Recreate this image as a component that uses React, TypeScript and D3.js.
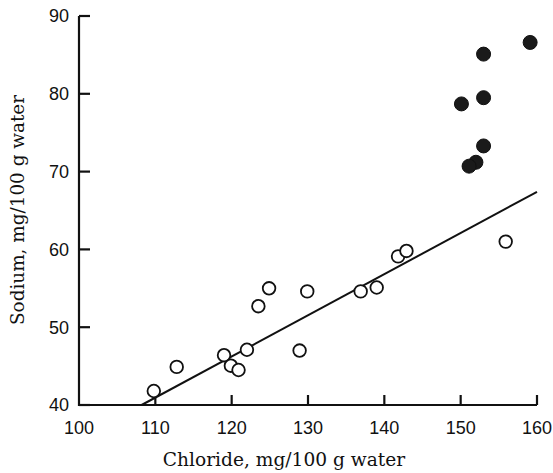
import React from "react";
import * as d3 from "d3";

// Chloride vs sodium concentrations (mg/100 g water)
const openChloride = [109.8, 112.8, 119.0, 119.9, 120.9, 122.0, 123.5, 124.9, 128.9, 129.9, 136.9, 139.0, 141.8, 142.9, 155.9];
const openSodium = [41.8, 44.9, 46.4, 45.05, 44.5, 47.1, 52.7, 55.0, 47.0, 54.6, 54.6, 55.1, 59.1, 59.8, 61.0];
const filledChloride = [159.1, 153.0, 150.1, 153.0, 153.0, 152.0, 151.1];
const filledSodium = [86.6, 85.1, 78.7, 79.5, 73.3, 71.2, 70.7];

// Fitted regression line end points
const fitChloride = [108.2, 160];
const fitSodium = [40, 67.4];

const xTicks = [100, 110, 120, 130, 140, 150, 160];
const yTicks = [40, 50, 60, 70, 80, 90];

const W = 553;
const H = 473;

export default function App() {
  const x = d3.scaleLinear().domain([100, 160]).range([79, 537]);
  const y = d3.scaleLinear().domain([40, 90]).range([405, 16]);

  const line = d3
    .line<number>()
    .x((d, i) => x(fitChloride[i]))
    .y((d) => y(d));

  const tickFont = "'Liberation Sans', Arial, sans-serif";
  const titleFont = "'DejaVu Serif', 'Liberation Serif', serif";

  return (
    <svg
      width={W}
      height={H}
      style={{ position: "absolute", left: 0, top: 0, background: "#fff" }}
    >
      {/* axes */}
      <path
        d={`M${x(100)},${y(90)} V${y(40)} H${x(160)}`}
        fill="none"
        stroke="#111"
        strokeWidth={2.2}
      />
      {yTicks.map((t) => (
        <g key={"y" + t}>
          <line x1={x(100)} x2={x(100) + 11} y1={y(t)} y2={y(t)} stroke="#111" strokeWidth={2.2} />
          <text
            x={69}
            y={y(t)}
            dy="0.36em"
            textAnchor="end"
            fontFamily={tickFont}
            fontSize={18}
            fill="#111"
          >
            {t}
          </text>
        </g>
      ))}
      {xTicks.map((t) => (
        <g key={"x" + t}>
          {t > 100 && (
            <line x1={x(t)} x2={x(t)} y1={y(40)} y2={y(40) - 10} stroke="#111" strokeWidth={2.2} />
          )}
          <text
            x={x(t)}
            y={434}
            textAnchor="middle"
            fontFamily={tickFont}
            fontSize={18}
            fill="#111"
          >
            {t}
          </text>
        </g>
      ))}

      {/* regression line */}
      <path d={line(fitSodium) || ""} fill="none" stroke="#111" strokeWidth={2} />

      {/* open points */}
      {openChloride.map((c, i) => (
        <circle
          key={"o" + i}
          cx={x(c)}
          cy={y(openSodium[i])}
          r={6.3}
          fill="#fff"
          stroke="#111"
          strokeWidth={1.8}
        />
      ))}

      {/* filled points */}
      {filledChloride.map((c, i) => (
        <circle
          key={"f" + i}
          cx={x(c)}
          cy={y(filledSodium[i])}
          r={7}
          fill="#1a1a1a"
          stroke="#111"
          strokeWidth={1}
        />
      ))}

      {/* axis titles */}
      <text
        x={284}
        y={466}
        textAnchor="middle"
        fontFamily={titleFont}
        fontSize={18.6}
        fill="#111"
      >
        Chloride, mg/100 g water
      </text>
      <text
        transform={`translate(24,${210}) rotate(-90)`}
        textAnchor="middle"
        fontFamily={titleFont}
        fontSize={18.4}
        fill="#111"
      >
        Sodium, mg/100 g water
      </text>
    </svg>
  );
}
